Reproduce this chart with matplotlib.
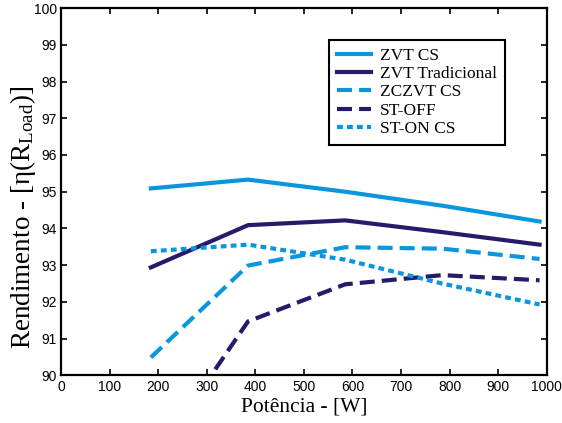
import numpy as np
import matplotlib
matplotlib.use('Agg')
import matplotlib.pyplot as plt

plt.rcParams['mathtext.fontset'] = 'custom'
plt.rcParams['mathtext.rm'] = 'Liberation Serif'
plt.rcParams['mathtext.it'] = 'Liberation Serif:italic'

# data
potencia = [185, 385, 585, 785, 985]
zvt_cs = [95.09, 95.33, 95.0, 94.62, 94.19]
zvt_trad = [92.94, 94.09, 94.22, 93.9, 93.56]
zczvt_cs = [90.49, 92.99, 93.49, 93.45, 93.17]
st_off = [87.6, 91.47, 92.48, 92.73, 92.59]
st_on_cs = [93.38, 93.56, 93.15, 92.5, 91.93]

c_light = '#0a96dc'
c_dark = '#261a6a'
lw = 3.0

fig = plt.figure(figsize=(5.62, 4.23), dpi=100)
ax = fig.add_axes([0.1085, 0.1125, 0.8645, 0.8685])

ax.plot(potencia, zvt_cs, color=c_light, lw=lw, label='ZVT CS')
ax.plot(potencia, zvt_trad, color=c_dark, lw=lw, label='ZVT Tradicional')
ax.plot(potencia, zczvt_cs, color=c_light, lw=lw, ls=(0, (3.6, 1.7)), label='ZCZVT CS')
ax.plot(potencia, st_off, color=c_dark, lw=lw, ls=(0, (3.6, 1.7)), label='ST-OFF')
ax.plot(potencia, st_on_cs, color=c_light, lw=lw, ls=(0, (1.4, 1.0)), label='ST-ON CS')

ax.set_xlim(0, 1000)
ax.set_ylim(90, 100)
ax.set_xticks(np.arange(0, 1001, 100))
ax.set_yticks(np.arange(90, 101, 1))
ax.tick_params(direction='in', top=True, right=True, length=4, width=1.2,
               labelsize=10, pad=3)
for lab in ax.get_xticklabels() + ax.get_yticklabels():
    lab.set_fontfamily('Liberation Sans')
for sp in ax.spines.values():
    sp.set_linewidth(1.6)

ax.set_xlabel('Potência - [W]', fontsize=15.5, family='Liberation Serif', labelpad=3)
ax.set_ylabel(r'Rendimento - [η(R$_{\mathrm{Load}}$)]', fontsize=19.5,
              family='Liberation Serif')
ax.yaxis.set_label_coords(-0.048, 0.43)

leg = ax.legend(loc='upper right', bbox_to_anchor=(0.9136, 0.913),
                prop={'family': 'Liberation Serif', 'size': 12.5},
                fancybox=False, edgecolor='black', framealpha=1,
                handlelength=2.0, handletextpad=0.5, labelspacing=0.12,
                borderpad=0.45, borderaxespad=0)
leg.get_frame().set_linewidth(1.5)

fig.savefig('out.png', dpi=100)
